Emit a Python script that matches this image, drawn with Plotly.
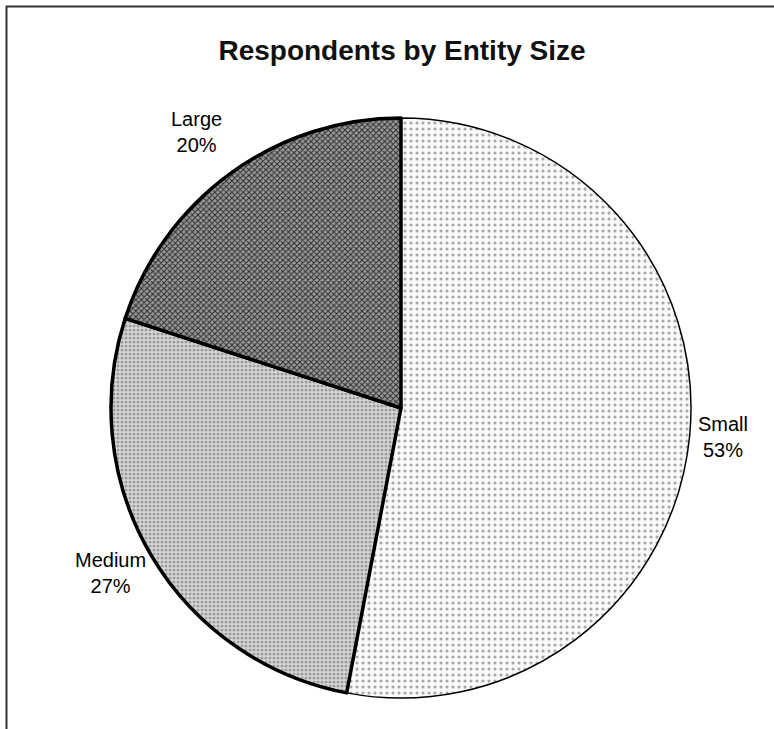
import plotly.graph_objects as go

# ---- data ----
categories = ["Small", "Medium", "Large"]
values = [53, 27, 20]
label_text = ["Small<br>53%", "Medium<br>27%", "Large<br>20%"]

# ---- styling ----
W, H = 774, 729
label_px = [(723, 437), (110, 573), (196, 132)]  # label centers (px)
pattern_bg = ["#f9f9f9", "#dadada", "#9a9a9a"]
pattern_fg = ["#a8a8a8", "#9e9e9e", "#2e2e2e"]
pattern_shape = [".", ".", "x"]
pattern_size = [6, 4, 4]
pattern_solid = [0.22, 0.5, 0.45]
line_w = [1.5, 3.5, 3.5]

cx, cy, r = 401, 408, 290

fig = go.Figure(go.Pie(
    labels=categories,
    values=values,
    sort=False,
    direction="clockwise",
    rotation=0,
    textinfo="none",
    hoverinfo="label+percent",
    showlegend=False,
    marker=dict(
        colors=pattern_bg,
        line=dict(color="black", width=line_w),
        pattern=dict(
            shape=pattern_shape,
            fgcolor=pattern_fg,
            bgcolor=pattern_bg,
            size=pattern_size,
            solidity=pattern_solid,
            fillmode="replace",
        ),
    ),
    domain=dict(
        x=[(cx - r) / W, (cx + r) / W],
        y=[1 - (cy + r) / H, 1 - (cy - r) / H],
    ),
))

annotations = []
for txt, (px, py) in zip(label_text, label_px):
    annotations.append(dict(
        text=txt, x=px / W, y=1 - py / H, xref="paper", yref="paper",
        xanchor="center", yanchor="middle", showarrow=False, align="center",
        font=dict(family="Arial, Liberation Sans", size=20, color="black"),
    ))

shapes = [
    dict(type="line", xref="paper", yref="paper",
         x0=6 / W, x1=1.0, y0=1 - 6.5 / H, y1=1 - 6.5 / H,
         line=dict(color="#333333", width=2)),
    dict(type="line", xref="paper", yref="paper",
         x0=6.5 / W, x1=6.5 / W, y0=0, y1=1 - 6 / H,
         line=dict(color="#333333", width=2)),
]

fig.update_layout(
    width=W, height=H,
    margin=dict(l=0, r=0, t=0, b=0),
    paper_bgcolor="white",
    plot_bgcolor="white",
    title=dict(
        text="<b>Respondents by Entity Size</b>",
        x=402 / W, xanchor="center",
        y=1 - 50 / H, yanchor="middle",
        font=dict(family="Arial, Liberation Sans", size=28, color="#111111"),
    ),
    annotations=annotations,
    shapes=shapes,
)

fig.write_html("out.html")
